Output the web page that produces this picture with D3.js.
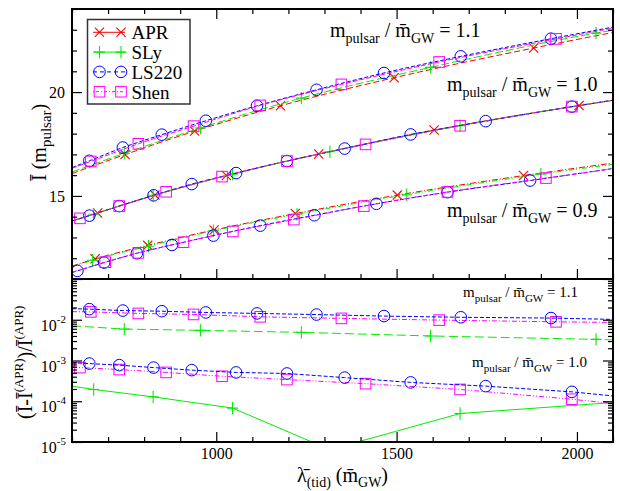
<!DOCTYPE html>
<html>
<head>
<meta charset="utf-8">
<script src="https://cdn.jsdelivr.net/npm/d3@7"></script>
<style>
  body { margin: 0; background: #fff; }
  svg text { font-family: "Liberation Serif", "Times New Roman", Times, "Nimbus Roman", "DejaVu Serif", serif; fill: #000; }
</style>
</head>
<body>
<svg id="chart" width="620" height="491"></svg>
<script>
// ---------- data ----------
const lamDomain = [600, 2100];
const xMajorTicks = [1000, 1500, 2000];
const yTopDomain = [11, 24];
const yTopMajorTicks = [15, 20];
const yBotDomain = [1e-5, 1e-1];
const yBotLabelExps = [-5, -4, -3, -2];
const eosNames = ["APR", "SLy", "LS220", "Shen"];
const ratioLabels = ["1.1", "1.0", "0.9"];

// Ī(m_pulsar) versus λ̄, m_pulsar / m̄_GW = 1.1
const lamAPR_11 = [600, 747, 940, 1178, 1493, 1880, 2100];
const iAPR_11   = [16.08, 16.99, 18.12, 19.34, 20.69, 22.12, 22.87];
const lamSLy_11 = [600, 745, 956, 1236, 1594, 2053, 2100];
const iSLy_11   = [16.15, 17.05, 18.27, 19.71, 21.19, 22.84, 22.98];
const lamLS_11  = [600, 648, 741, 849, 971, 1113, 1278, 1465, 1678, 1928, 2100];
const iLS_11    = [16.36, 16.69, 17.33, 17.95, 18.62, 19.34, 20.11, 20.92, 21.72, 22.57, 23.13];
const lamShen_11 = [600, 652, 784, 937, 1122, 1347, 1618, 1942, 2100];
const iShen_11   = [16.33, 16.66, 17.51, 18.36, 19.36, 20.37, 21.45, 22.56, 23.08];

// m_pulsar / m̄_GW = 1.0
const lamAPR_10 = [600, 671, 830, 1028, 1284, 1604, 2006, 2100];
const iAPR_10   = [13.79, 14.18, 15.04, 15.98, 17.02, 18.17, 19.35, 19.60];
const lamSLy_10 = [600, 660, 825, 1045, 1315, 1676, 2100];
const iSLy_10   = [13.79, 14.12, 15.03, 16.05, 17.13, 18.38, 19.61];
const lamLS_10  = [600, 648, 731, 826, 932, 1055, 1196, 1356, 1539, 1747, 1986, 2100];
const iLS_10    = [13.79, 14.05, 14.51, 15.03, 15.57, 16.10, 16.68, 17.28, 17.96, 18.60, 19.30, 19.61];
const lamShen_10 = [600, 622, 731, 861, 1016, 1196, 1414, 1676, 1986, 2100];
const iShen_10   = [13.80, 13.92, 14.51, 15.20, 15.93, 16.68, 17.48, 18.38, 19.30, 19.61];

// m_pulsar / m̄_GW = 0.9
const lamAPR_09 = [600, 664, 810, 994, 1219, 1502, 1852, 2100];
const iAPR_09   = [11.62, 11.97, 12.62, 13.36, 14.15, 15.04, 15.98, 16.58];
const lamSLy_09 = [600, 657, 812, 992, 1224, 1528, 1900, 2100];
const iSLy_09   = [11.58, 11.90, 12.58, 13.32, 14.12, 15.06, 16.05, 16.52];
const lamLS_09  = [600, 615, 689, 780, 877, 992, 1122, 1272, 1444, 1641, 1870, 2100];
const iLS_09    = [11.31, 11.39, 11.79, 12.24, 12.64, 13.09, 13.57, 14.07, 14.62, 15.18, 15.74, 16.32];
const lamShen_09 = [600, 692, 784, 909, 1046, 1215, 1409, 1641, 1914, 2100];
const iShen_09   = [11.32, 11.81, 12.26, 12.77, 13.29, 13.86, 14.51, 15.19, 15.86, 16.31];

// |Ī - Ī(APR)| / Ī(APR), m_pulsar / m̄_GW = 1.1
const dLS_11   = [0.0187, 0.0182, 0.0168, 0.0162, 0.0151, 0.0143, 0.0134, 0.0123, 0.0115, 0.0110, 0.0102];
const dShen_11 = [0.0158, 0.0156, 0.0143, 0.0135, 0.0118, 0.0108, 0.0098, 0.0089, 0.0086];
const dSLy_11  = [0.0071, 0.0059, 0.0055, 0.0049, 0.0040, 0.0033, 0.0032];
// m_pulsar / m̄_GW = 1.0
const dLS_10   = [8.8e-4, 8.4e-4, 7.7e-4, 6.7e-4, 5.8e-4, 5.1e-4, 4.8e-4, 3.8e-4, 2.9e-4, 2.35e-4, 1.7e-4, 1.35e-4];
const dShen_10 = [7.1e-4, 6.7e-4, 6.0e-4, 5.1e-4, 4.1e-4, 3.4e-4, 2.7e-4, 1.95e-4, 1.12e-4, 8.8e-5];
const dSLy_10  = [2.35e-4, 1.95e-4, 1.28e-4, 6.8e-5, 6.5e-6, 5.0e-5, 9.3e-5];

// ---------- styles ----------
const eosStyle = {
  APR:   { color: "#ff0000", mark: "x" },
  SLy:   { color: "#00ee00", mark: "+" },
  LS220: { color: "#0000ff", mark: "o" },
  Shen:  { color: "#ff00ff", mark: "s" }
};
const legendDash = { APR: null, SLy: null, LS220: "4,3", Shen: "1,2,3,2" };

const topSeries = [
  { eos: "APR",   lam: lamAPR_11,  val: iAPR_11,  dash: "6,3" },
  { eos: "SLy",   lam: lamSLy_11,  val: iSLy_11,  dash: "8,3" },
  { eos: "LS220", lam: lamLS_11,   val: iLS_11,   dash: "4,2" },
  { eos: "Shen",  lam: lamShen_11, val: iShen_11, dash: "5,2" },
  { eos: "APR",   lam: lamAPR_10,  val: iAPR_10,  dash: null },
  { eos: "SLy",   lam: lamSLy_10,  val: iSLy_10,  dash: null },
  { eos: "LS220", lam: lamLS_10,   val: iLS_10,   dash: "4,3" },
  { eos: "Shen",  lam: lamShen_10, val: iShen_10, dash: "1,2,3,2" },
  { eos: "APR",   lam: lamAPR_09,  val: iAPR_09,  dash: "6,2,1,2" },
  { eos: "SLy",   lam: lamSLy_09,  val: iSLy_09,  dash: "5,2,1,2,1,2" },
  { eos: "LS220", lam: lamLS_09,   val: iLS_09,   dash: "4,2" },
  { eos: "Shen",  lam: lamShen_09, val: iShen_09, dash: "5,2,1,2" }
];
const botSeries = [
  { eos: "SLy",   lam: lamSLy_11,  val: dSLy_11,  dash: "9,4" },
  { eos: "Shen",  lam: lamShen_11, val: dShen_11, dash: "5,2,1,2" },
  { eos: "LS220", lam: lamLS_11,   val: dLS_11,   dash: "4,2" },
  { eos: "SLy",   lam: lamSLy_10,  val: dSLy_10,  dash: null },
  { eos: "Shen",  lam: lamShen_10, val: dShen_10, dash: "5,2,1,2,1,2" },
  { eos: "LS220", lam: lamLS_10,   val: dLS_10,   dash: "4,2" }
];

// ---------- layout ----------
const L = 72, R = 613, TOP = 9, MID = 279, BOT = 442;
const FONT = '"Liberation Serif", "Times New Roman", Times, "Nimbus Roman", "DejaVu Serif", serif';
const svg = d3.select("#chart");

const x = d3.scaleLinear(lamDomain, [L, R]);
const yT = d3.scaleLinear(yTopDomain, [MID, TOP]);
const yB = d3.scaleLog(yBotDomain, [BOT, MID]);

const defs = svg.append("defs");
defs.append("clipPath").attr("id", "clipTop")
  .append("rect").attr("x", L).attr("y", TOP).attr("width", R - L).attr("height", MID - TOP);
defs.append("clipPath").attr("id", "clipBot")
  .append("rect").attr("x", L).attr("y", MID).attr("width", R - L).attr("height", BOT - MID);

function drawMarker(g, kind, cx, cy, color) {
  if (kind === "o") {
    g.append("circle").attr("cx", cx).attr("cy", cy).attr("r", 5.8)
      .attr("fill", "none").attr("stroke", color).attr("stroke-width", 1);
  } else if (kind === "s") {
    g.append("rect").attr("x", cx - 5.3).attr("y", cy - 5.3).attr("width", 10.6).attr("height", 10.6)
      .attr("fill", "none").attr("stroke", color).attr("stroke-width", 1);
  } else if (kind === "x") {
    const a = 4.6;
    g.append("path").attr("d", `M${cx - a},${cy - a}L${cx + a},${cy + a}M${cx - a},${cy + a}L${cx + a},${cy - a}`)
      .attr("fill", "none").attr("stroke", color).attr("stroke-width", 1.1);
  } else {
    const a = 5.5;
    g.append("path").attr("d", `M${cx - a},${cy}H${cx + a}M${cx},${cy - 6.2}V${cy + 6.2}`)
      .attr("fill", "none").attr("stroke", color).attr("stroke-width", 1.1);
  }
}

function drawSeries(layer, series, yScale, curve) {
  series.forEach(s => {
    const st = eosStyle[s.eos];
    const pts = s.lam.map((l, i) => [l, s.val[i]]);
    const line = d3.line().x(d => x(d[0])).y(d => yScale(d[1])).curve(curve);
    layer.append("path").attr("d", line(pts))
      .attr("fill", "none").attr("stroke", st.color).attr("stroke-width", 1)
      .attr("stroke-dasharray", s.dash);
    pts.forEach(d => {
      if (d[0] > lamDomain[0] && d[0] < lamDomain[1]) drawMarker(layer, st.mark, x(d[0]), yScale(d[1]), st.color);
    });
  });
}

drawSeries(svg.append("g").attr("clip-path", "url(#clipTop)"), topSeries, yT, d3.curveMonotoneX);
drawSeries(svg.append("g").attr("clip-path", "url(#clipBot)"), botSeries, yB, d3.curveLinear);

// ---------- axes ----------
const xMinor = d3.range(lamDomain[0], lamDomain[1] + 1, 100).filter(v => !xMajorTicks.includes(v));
const yTopMinor = d3.range(yTopDomain[0], yTopDomain[1] + 1, 1).filter(v => !yTopMajorTicks.includes(v));
const yBotMajor = [1e-5, 1e-4, 1e-3, 1e-2, 1e-1];
const yBotMinor = [];
yBotMajor.slice(0, 4).forEach(d => { for (let k = 2; k <= 9; k++) yBotMinor.push(d * k); });

function axisGroup(axis, tx, ty) {
  const g = svg.append("g").attr("transform", `translate(${tx},${ty})`).call(axis)
    .attr("font-family", FONT).attr("font-size", 16);
  g.select(".domain").remove();
  g.selectAll(".tick line").attr("stroke", "#000").attr("stroke-width", 1.2);
  g.selectAll("text").attr("fill", "#000");
  return g;
}

// x axes
axisGroup(d3.axisBottom(x).tickValues(xMajorTicks).tickSize(-10).tickPadding(6).tickFormat(d3.format("d")), 0, BOT);
axisGroup(d3.axisBottom(x).tickValues(xMinor).tickSize(-5).tickFormat(""), 0, BOT);
axisGroup(d3.axisBottom(x).tickValues(xMajorTicks).tickSize(-10).tickFormat(""), 0, MID);
axisGroup(d3.axisBottom(x).tickValues(xMinor).tickSize(-5).tickFormat(""), 0, MID);
axisGroup(d3.axisTop(x).tickValues(xMajorTicks).tickSize(-10).tickFormat(""), 0, TOP);
axisGroup(d3.axisTop(x).tickValues(xMinor).tickSize(-5).tickFormat(""), 0, TOP);

// top panel y axes
axisGroup(d3.axisLeft(yT).tickValues(yTopMajorTicks).tickSize(-10).tickPadding(7).tickFormat(d3.format("d")), L, 0);
axisGroup(d3.axisLeft(yT).tickValues(yTopMinor).tickSize(-5).tickFormat(""), L, 0);
axisGroup(d3.axisRight(yT).tickValues(yTopMajorTicks).tickSize(-10).tickFormat(""), R, 0);
axisGroup(d3.axisRight(yT).tickValues(yTopMinor).tickSize(-5).tickFormat(""), R, 0);

// bottom panel y axes (log)
axisGroup(d3.axisLeft(yB).tickValues(yBotMajor).tickSize(-10).tickFormat(""), L, 0);
axisGroup(d3.axisLeft(yB).tickValues(yBotMinor).tickSize(-5).tickFormat(""), L, 0);
axisGroup(d3.axisRight(yB).tickValues(yBotMajor).tickSize(-10).tickFormat(""), R, 0);
axisGroup(d3.axisRight(yB).tickValues(yBotMinor).tickSize(-5).tickFormat(""), R, 0);

// decade labels 10^n
yBotLabelExps.forEach(e => {
  const t = svg.append("text").attr("x", L - 6).attr("y", yB(Math.pow(10, e)) + 11)
    .attr("text-anchor", "end").attr("font-size", 16);
  t.append("tspan").text("10");
  t.append("tspan").attr("dy", -8).attr("font-size", 11).text("-" + Math.abs(e));
});

// frames
svg.append("rect").attr("x", L).attr("y", TOP).attr("width", R - L).attr("height", BOT - TOP)
  .attr("fill", "none").attr("stroke", "#000").attr("stroke-width", 2);
svg.append("line").attr("x1", L).attr("x2", R).attr("y1", MID).attr("y2", MID)
  .attr("stroke", "#000").attr("stroke-width", 2);

// ---------- axis titles ----------
const xt = svg.append("text").attr("x", 297).attr("y", 482).attr("font-size", 20);
xt.append("tspan").text("\u03BB\u0304");
xt.append("tspan").attr("font-size", 14).attr("dy", 5).text("(tid)");
xt.append("tspan").attr("dy", -5).text(" (m\u0304");
xt.append("tspan").attr("font-size", 14).attr("dy", 5).text("GW");
xt.append("tspan").attr("dy", -5).text(")");

const yt1 = svg.append("text").attr("transform", "translate(46,181) rotate(-90)").attr("font-size", 20);
yt1.append("tspan").text("\u012A (m");
yt1.append("tspan").attr("font-size", 15).attr("dy", 5).text("pulsar");
yt1.append("tspan").attr("dy", -5).text(")");

const yt2 = svg.append("text").attr("transform", "translate(32,419) rotate(-90)").attr("font-size", 20);
yt2.append("tspan").text("(\u012A-\u012A");
yt2.append("tspan").attr("font-size", 13).attr("dy", -9).text("(APR)");
yt2.append("tspan").attr("dy", 9).text(")/\u012A");
yt2.append("tspan").attr("font-size", 13).attr("dy", -9).text("(APR)");

// ---------- ratio annotations ----------
function ratioLabel(px, py, size, ratio) {
  const sub = Math.round(size * 0.7);
  const off = size * 0.3;
  const t = svg.append("text").attr("x", px).attr("y", py).attr("font-size", size);
  t.append("tspan").text("m");
  t.append("tspan").attr("font-size", sub).attr("dy", off).text("pulsar");
  t.append("tspan").attr("dy", -off).text(" / m\u0304");
  t.append("tspan").attr("font-size", sub).attr("dy", off).text("GW");
  t.append("tspan").attr("dy", -off).text(" = " + ratio);
}
ratioLabel(330, 37, 20, ratioLabels[0]);
ratioLabel(447, 91, 20, ratioLabels[1]);
ratioLabel(447, 217, 20, ratioLabels[2]);
ratioLabel(463, 297, 15, ratioLabels[0]);
ratioLabel(472, 367, 15, ratioLabels[1]);

// ---------- legend ----------
const lg = svg.append("g");
lg.append("rect").attr("x", 87.5).attr("y", 19.5).attr("width", 102.5).attr("height", 84.5)
  .attr("fill", "#fff").attr("stroke", "#333").attr("stroke-width", 1.5);
eosNames.forEach((name, i) => {
  const st = eosStyle[name];
  const cy = 32.3 + i * 19.8;
  lg.append("line").attr("x1", 93).attr("x2", 125).attr("y1", cy).attr("y2", cy)
    .attr("stroke", st.color).attr("stroke-width", 1).attr("stroke-dasharray", legendDash[name]);
  drawMarker(lg, st.mark, 99.5, cy, st.color);
  drawMarker(lg, st.mark, 121, cy, st.color);
  lg.append("text").attr("x", 131.5).attr("y", cy + 7).attr("font-size", 19).text(name);
});
</script>
</body>
</html>
